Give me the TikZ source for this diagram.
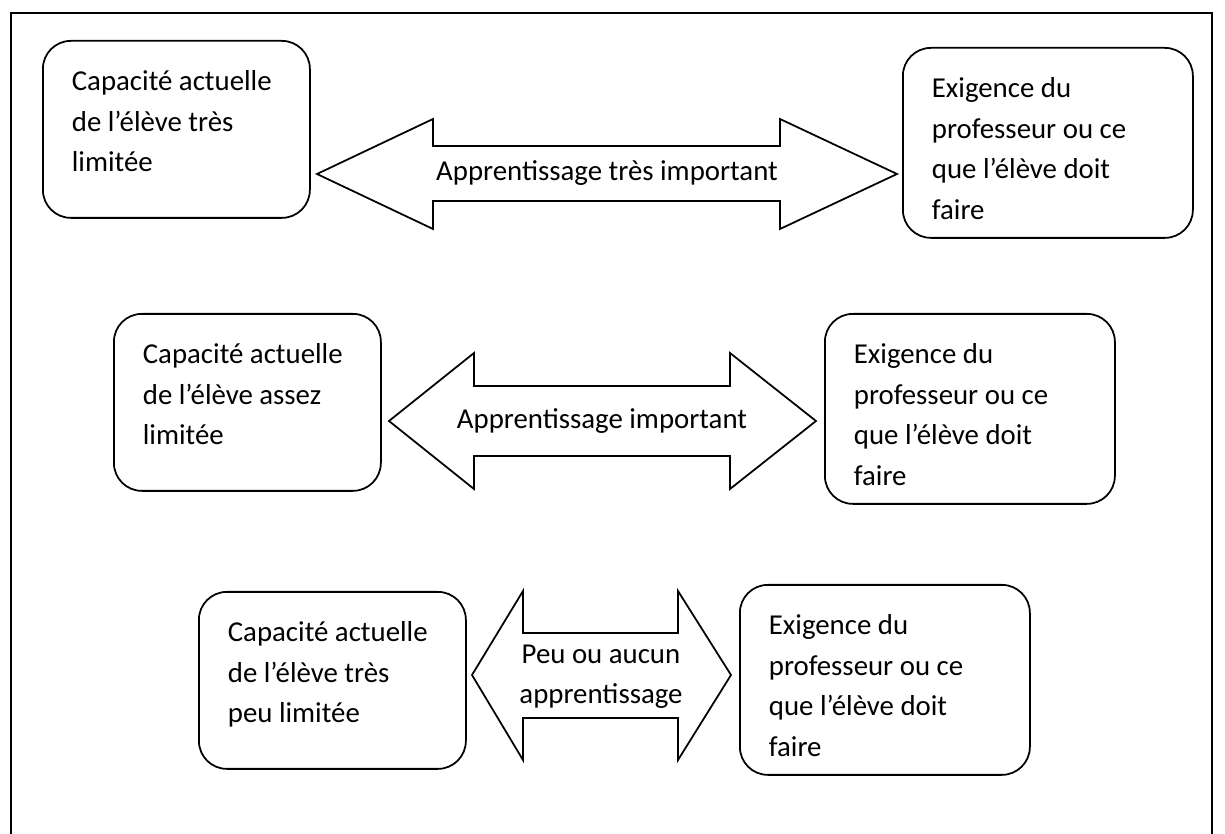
\documentclass[tikz,border=0pt]{standalone}
\usepackage{fontspec}
\setmainfont{Carlito}
\usetikzlibrary{calc}

\begin{document}
\begin{tikzpicture}[
    font=\fontsize{16.4}{23}\selectfont,
    box/.style={draw, line width=1pt, rounded corners=0.56cm, anchor=north west,
      align=flush left, inner xsep=0.58cm, inner ysep=0.3cm, text height=0.7cm},
    eleve/.style={box, text width=4.18cm, text depth=2.24cm},
    prof/.style={box, text width=4.64cm, text depth=2.5cm},
    fleche/.style={draw, line width=1pt, line join=miter}
  ]
    % Cadre
    \useasboundingbox (0,0) rectangle (24.5,16.68);
    \draw[line width=1.1pt] (0.22,0) -- (0.22,16.42) -- (24.24,16.42) -- (24.24,0);

    % Rangée 1 : apprentissage très important
    \node[eleve] (cap1) at (0.84,15.88) {Capacité actuelle\\de l’élève très\\limitée};
    \node[prof] (exi1) at (18.04,15.74) {Exigence du\\professeur ou ce\\que l’élève doit\\faire};
    \draw[fleche] (6.34,13.2) -- (8.66,14.3) -- (8.66,13.76) -- (15.6,13.76) -- (15.6,14.3)
      -- (17.94,13.2) -- (15.6,12.1) -- (15.6,12.66) -- (8.66,12.66) -- (8.66,12.1) -- cycle;
    \node (app1) at (12.14,13.22) {Apprentissage très important};

    % Rangée 2 : apprentissage important
    \node[eleve] (cap2) at (2.26,10.42) {Capacité actuelle\\de l’élève assez\\limitée};
    \node[prof] (exi2) at (16.48,10.42) {Exigence du\\professeur ou ce\\que l’élève doit\\faire};
    \draw[fleche] (7.78,8.26) -- (9.48,9.62) -- (9.48,8.96) -- (14.6,8.96) -- (14.6,9.62)
      -- (16.32,8.26) -- (14.6,6.9) -- (14.6,7.56) -- (9.48,7.56) -- (9.48,6.9) -- cycle;
    \node (app2) at (12.04,8.26) {Apprentissage important};

    % Rangée 3 : peu ou aucun apprentissage
    \node[eleve] (cap3) at (3.96,4.86) {Capacité actuelle\\de l’élève très\\peu limitée};
    \node[prof] (exi3) at (14.78,5.0) {Exigence du\\professeur ou ce\\que l’élève doit\\faire};
    \draw[fleche] (9.44,3.18) -- (10.46,4.86) -- (10.46,4.02) -- (13.56,4.02) -- (13.56,4.86)
      -- (14.62,3.18) -- (13.56,1.48) -- (13.56,2.32) -- (10.46,2.32) -- (10.46,1.48) -- cycle;
    \node[align=flush center] (app3) at (12.02,3.14) {Peu ou aucun\\apprentissage};

\end{tikzpicture}
\end{document}
